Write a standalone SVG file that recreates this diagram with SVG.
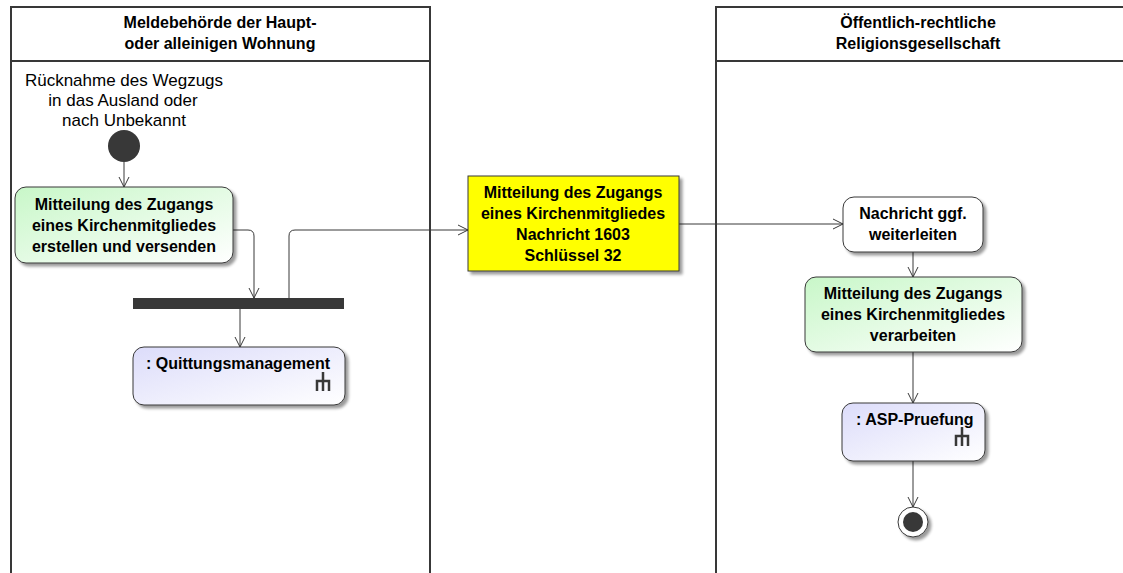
<svg xmlns="http://www.w3.org/2000/svg" width="1123" height="573" viewBox="0 0 1123 573">
<defs>
<linearGradient id="gGreen" x1="0" y1="0" x2="1" y2="1"><stop offset="0" stop-color="#c8f7c8"/><stop offset="1" stop-color="#ffffff"/></linearGradient>
<linearGradient id="gBlue" x1="0" y1="0" x2="1" y2="1"><stop offset="0" stop-color="#dcdcfa"/><stop offset="1" stop-color="#ffffff"/></linearGradient>
<marker id="arr" viewBox="0 0 12 12" refX="11" refY="6" markerWidth="12" markerHeight="12" markerUnits="userSpaceOnUse" orient="auto"><path d="M1,1 L11,6 L1,11" fill="none" stroke="#383838" stroke-width="1"/></marker>
<filter id="sh" x="-10%" y="-10%" width="130%" height="130%"><feGaussianBlur in="SourceAlpha" stdDeviation="1.5"/><feOffset dx="3" dy="3"/><feComponentTransfer><feFuncA type="linear" slope="0.4"/></feComponentTransfer><feMerge><feMergeNode/><feMergeNode in="SourceGraphic"/></feMerge></filter>
</defs>
<style>
.lane{fill:none;stroke:#383838;stroke-width:2}
.b{font-family:"Liberation Sans",Arial,sans-serif;font-weight:bold;font-size:16px;fill:#000;text-anchor:middle}
.n{font-family:"Liberation Sans",Arial,sans-serif;font-size:17px;fill:#000;text-anchor:middle}
.act{stroke:#383838;stroke-width:1}
.c{fill:none;stroke:#383838;stroke-width:1}
.rake{fill:none;stroke:#383838;stroke-width:2.5}
</style>
<rect width="1123" height="573" fill="#fff"/>
<g id="lanes">
<path class="lane" d="M11,573 V7 H430 V573 M11,61 H430"/>
<path class="lane" d="M716,573 V7 H1124 M716,61 H1124"/>
<text class="b" x="220" y="28">Meldebehörde der Haupt-</text>
<text class="b" x="220" y="49">oder alleinigen Wohnung</text>
<text class="b" x="918" y="28">Öffentlich-rechtliche</text>
<text class="b" x="918" y="49">Religionsgesellschaft</text>
</g>
<g id="connectors">
<line class="c" x1="124" y1="162" x2="124" y2="187" marker-end="url(#arr)"/>
<path class="c" d="M233,230 H248 Q254,230 254,236 V298" marker-end="url(#arr)"/>
<path class="c" d="M289,298 V236 Q289,230 295,230 H468" marker-end="url(#arr)"/>
<line class="c" x1="240" y1="309" x2="240" y2="347" marker-end="url(#arr)"/>
<line class="c" x1="679" y1="224" x2="843" y2="224" marker-end="url(#arr)"/>
<line class="c" x1="913" y1="252" x2="913" y2="277" marker-end="url(#arr)"/>
<line class="c" x1="913" y1="352" x2="913" y2="403" marker-end="url(#arr)"/>
<line class="c" x1="913" y1="461" x2="913" y2="507" marker-end="url(#arr)"/>
</g>
<g id="start">
<text class="n" x="124" y="86">Rücknahme des Wegzugs</text>
<text class="n" x="123" y="106">in das Ausland oder</text>
<text class="n" x="124" y="126">nach Unbekannt</text>
<circle cx="124" cy="146" r="16" fill="#383838"/>
</g>
<g id="erstellen">
<rect class="act" x="15" y="187" width="218" height="76" rx="11" fill="url(#gGreen)" filter="url(#sh)"/>
<text class="b" x="124" y="210">Mitteilung des Zugangs</text>
<text class="b" x="124" y="231">eines Kirchenmitgliedes</text>
<text class="b" x="124" y="252">erstellen und versenden</text>
</g>
<g id="fork">
<rect x="133" y="298" width="211" height="11" fill="#383838"/>
</g>
<g id="quittung">
<rect class="act" x="133" y="347" width="212" height="58" rx="11" fill="url(#gBlue)" filter="url(#sh)"/>
<text class="b" x="146" y="369" style="text-anchor:start">: Quittungsmanagement</text>
<path class="rake" d="M323,372 V391 M317,391 V381 H329 V391"/>
</g>
<g id="nachricht1603">
<rect x="468" y="176" width="211" height="95" fill="#ffff00" stroke="#383838" stroke-width="1" filter="url(#sh)"/>
<text class="b" x="573" y="198">Mitteilung des Zugangs</text>
<text class="b" x="573" y="219">eines Kirchenmitgliedes</text>
<text class="b" x="573" y="240">Nachricht 1603</text>
<text class="b" x="573" y="261">Schlüssel 32</text>
</g>
<g id="weiterleiten">
<rect class="act" x="843" y="197" width="140" height="55" rx="11" fill="#fff" filter="url(#sh)"/>
<text class="b" x="913" y="219">Nachricht ggf.</text>
<text class="b" x="913" y="240">weiterleiten</text>
</g>
<g id="verarbeiten">
<rect class="act" x="805" y="277" width="217" height="75" rx="11" fill="url(#gGreen)" filter="url(#sh)"/>
<text class="b" x="913" y="299">Mitteilung des Zugangs</text>
<text class="b" x="913" y="320">eines Kirchenmitgliedes</text>
<text class="b" x="913" y="341">verarbeiten</text>
</g>
<g id="asp">
<rect class="act" x="842" y="403" width="143" height="58" rx="11" fill="url(#gBlue)" filter="url(#sh)"/>
<text class="b" x="856" y="425" style="text-anchor:start">: ASP-Pruefung</text>
<path class="rake" d="M962,427 V446 M956,446 V436 H968 V446"/>
</g>
<g id="end">
<circle cx="913" cy="522" r="15" fill="#fff" stroke="#383838" stroke-width="1" filter="url(#sh)"/>
<circle cx="913" cy="522" r="10" fill="#383838"/>
</g>
</svg>
